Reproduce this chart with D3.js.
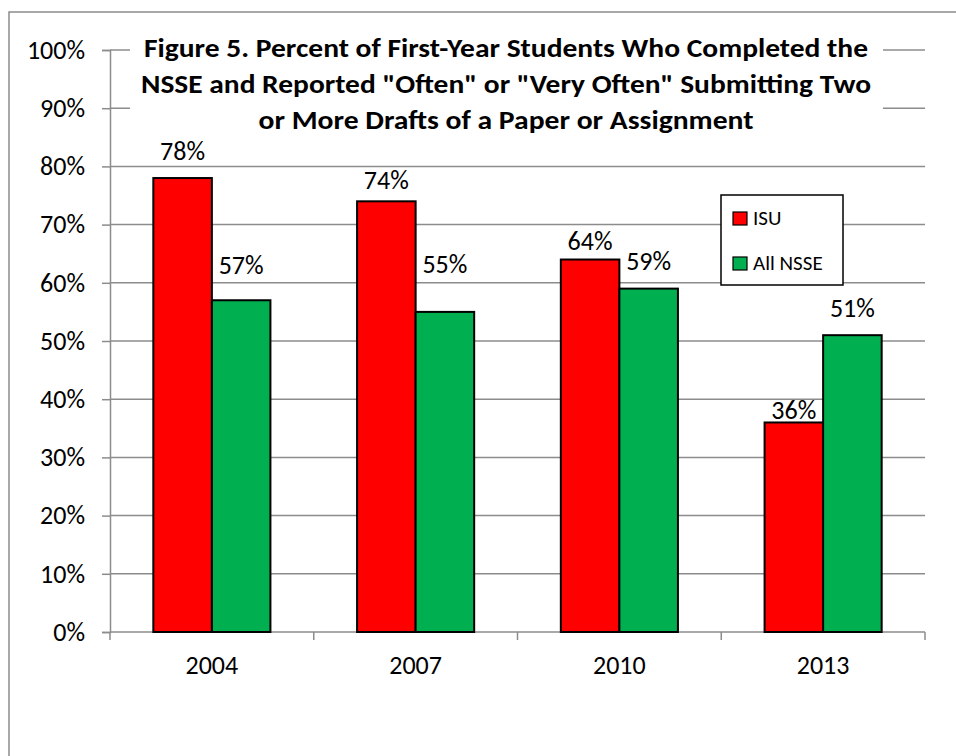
<!DOCTYPE html>
<html>
<head>
<meta charset="utf-8">
<script src="https://cdn.jsdelivr.net/npm/d3@7"></script>
<style>
  body { margin: 0; background: #fff; }
  text { font-family: Carlito, "Liberation Sans", Arial, sans-serif; fill: #000; }
</style>
</head>
<body>
<svg id="chart" width="956" height="756"></svg>
<script>
// data
const years = ["2004", "2007", "2010", "2013"];
const seriesNames = ["ISU", "All NSSE"];
const isuValues = [0.78, 0.74, 0.64, 0.36];
const nsseValues = [0.57, 0.55, 0.59, 0.51];
const yTickValues = [0, 0.1, 0.2, 0.3, 0.4, 0.5, 0.6, 0.7, 0.8, 0.9, 1.0];
const titleLines = [
  "Figure 5. Percent of First-Year Students Who Completed the",
  "NSSE and Reported \"Often\" or \"Very Often\" Submitting Two",
  "or More Drafts of a Paper or Assignment"
];
const seriesColors = ["#ff0000", "#00b050"];

// label lift above the bar top (px) - labels were hand placed in the original
const isuLift = [18, 12, 10, 3];
const nsseLift = [26, 39, 19, 18];

const svg = d3.select("#chart");
const gridColor = "#8c8c8c";
const fontStack = "Carlito, 'Liberation Sans', Arial, sans-serif";

// outer chart border (only left/top visible)
svg.append("rect")
  .attr("x", 9).attr("y", 12)
  .attr("width", 1000).attr("height", 800)
  .attr("fill", "none")
  .attr("stroke", gridColor)
  .attr("stroke-width", 1.5);

const plotLeft = 110, plotRight = 925, plotTop = 50, plotBottom = 632;

const x = d3.scaleBand().domain(years).range([plotLeft, plotRight]);
const bw = x.bandwidth();
const barW = bw / 3.48;
const xSub = d3.scaleBand().domain(seriesNames)
  .range([(bw - 2 * barW) / 2, (bw + 2 * barW) / 2]);
const y = d3.scaleLinear().domain([0, 1]).range([plotBottom, plotTop]);

// gridlines
svg.append("g")
  .selectAll("line")
  .data(yTickValues.slice(1))
  .join("line")
  .attr("x1", plotLeft).attr("x2", plotRight)
  .attr("y1", d => y(d)).attr("y2", d => y(d))
  .attr("stroke", gridColor)
  .attr("stroke-width", 1.5);

// y axis
const yAxis = svg.append("g")
  .attr("transform", `translate(${plotLeft},0)`)
  .call(d3.axisLeft(y).tickValues(yTickValues).tickFormat(d3.format(".0%")).tickSize(8).tickPadding(17));
yAxis.select(".domain").attr("stroke", gridColor).attr("stroke-width", 1.5);
yAxis.selectAll(".tick line").attr("stroke", gridColor).attr("stroke-width", 1.5);
yAxis.selectAll(".tick text")
  .style("font-size", "26px")
  .style("font-family", fontStack)
  .attr("fill", "#000");

// x axis
const xAxis = svg.append("g")
  .attr("transform", `translate(0,${plotBottom})`)
  .call(d3.axisBottom(x).tickSize(0).tickPadding(0));
xAxis.select(".domain").remove();
xAxis.append("line")
  .attr("x1", plotLeft).attr("x2", plotRight)
  .attr("stroke", gridColor).attr("stroke-width", 1.5);
xAxis.selectAll(".tick line").remove();
xAxis.append("g")
  .selectAll("line")
  .data(years.concat(["end"]))
  .join("line")
  .attr("x1", (d, i) => plotLeft + i * bw)
  .attr("x2", (d, i) => plotLeft + i * bw)
  .attr("y1", 0).attr("y2", 8)
  .attr("stroke", gridColor).attr("stroke-width", 1.5);
xAxis.selectAll(".tick text")
  .attr("dy", null)
  .attr("y", 42)
  .style("font-size", "26px")
  .style("font-family", fontStack)
  .attr("fill", "#000");

// bars
const rows = years.map((yr, i) => ({
  year: yr,
  vals: [
    { name: seriesNames[0], v: isuValues[i], lift: isuLift[i], color: seriesColors[0] },
    { name: seriesNames[1], v: nsseValues[i], lift: nsseLift[i], color: seriesColors[1] }
  ]
}));

const groups = svg.append("g")
  .selectAll("g")
  .data(rows)
  .join("g")
  .attr("transform", d => `translate(${x(d.year)},0)`);

groups.selectAll("rect")
  .data(d => d.vals)
  .join("rect")
  .attr("x", d => xSub(d.name))
  .attr("y", d => y(d.v))
  .attr("width", xSub.bandwidth())
  .attr("height", d => y(0) - y(d.v))
  .attr("fill", d => d.color)
  .attr("stroke", "#000")
  .attr("stroke-width", 2);

groups.selectAll("text")
  .data(d => d.vals)
  .join("text")
  .attr("x", d => xSub(d.name) + xSub.bandwidth() / 2)
  .attr("y", d => y(d.v) - d.lift)
  .attr("text-anchor", "middle")
  .style("font-size", "26px")
  .text(d => d3.format(".0%")(d.v));

// title with white background
svg.append("rect")
  .attr("x", 130).attr("y", 30)
  .attr("width", 753).attr("height", 110)
  .attr("fill", "#fff");

const titleWidths = [724, 730, 495];
svg.append("g")
  .selectAll("text")
  .data(titleLines)
  .join("text")
  .attr("x", 506)
  .attr("y", (d, i) => 57 + i * 36)
  .attr("text-anchor", "middle")
  .style("font-size", "26px")
  .style("font-weight", "bold")
  .attr("textLength", (d, i) => titleWidths[i])
  .attr("lengthAdjust", "spacingAndGlyphs")
  .text(d => d);

// legend
const legend = svg.append("g");
legend.append("rect")
  .attr("x", 721).attr("y", 195)
  .attr("width", 122).attr("height", 90)
  .attr("fill", "#fff")
  .attr("stroke", "#000")
  .attr("stroke-width", 1.5);
const items = legend.selectAll("g")
  .data(seriesNames)
  .join("g")
  .attr("transform", (d, i) => `translate(733,${212 + i * 45})`);
items.append("rect")
  .attr("width", 14).attr("height", 13)
  .attr("fill", (d, i) => seriesColors[i])
  .attr("stroke", "#000")
  .attr("stroke-width", 1.2);
items.append("text")
  .attr("x", 20).attr("y", 13)
  .style("font-size", "21px")
  .text(d => d);
</script>
</body>
</html>
